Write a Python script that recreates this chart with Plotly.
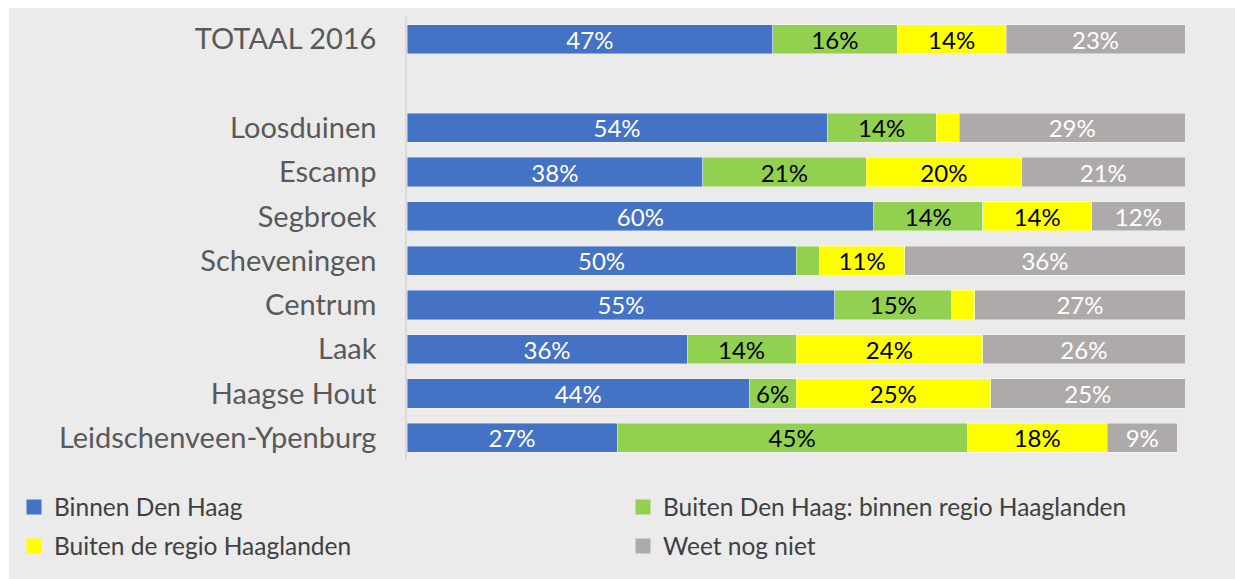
import plotly.graph_objects as go

# Stadsdelen and the share (%) for each destination choice
categories = ["TOTAAL 2016", "Loosduinen", "Escamp", "Segbroek", "Scheveningen",
              "Centrum", "Laak", "Haagse Hout", "Leidschenveen-Ypenburg"]
series_names = ["Binnen Den Haag", "Buiten Den Haag: binnen regio Haaglanden",
                "Buiten de regio Haaglanden", "Weet nog niet"]
binnen_den_haag = [47, 54, 38, 60, 50, 55, 36, 44, 27]
binnen_regio = [16, 14, 21, 14, 3, 15, 14, 6, 45]
buiten_regio = [14, 3, 20, 14, 11, 3, 24, 25, 18]
weet_nog_niet = [23, 29, 21, 12, 36, 27, 26, 25, 9]

colors = ["#4472C4", "#92D050", "#FFFF00", "#AEAAAA"]
label_colors = ["white", "black", "black", "white"]

W, H = 1235, 579
L, R, T, B = 407, 50, 17, 119
pw, ph = W - L - R, H - T - B


def px_x(x):
    return (x - L) / pw


def px_y(y):
    return (H - B - y) / ph


# Row positions: the total on top, one empty row, then the districts
n = len(categories)
ypos = [n] + [n - 2 - i for i in range(n - 1)]

# Legend entries laid out in two rows of two columns (pixel anchors)
legend_spots = [(14, 507), (623, 507), (14, 546), (623, 546)]
legend_ids = ["legend", "legend2", "legend3", "legend4"]

fig = go.Figure()
for name, vals, col, tcol, lid in zip(series_names,
                                      [binnen_den_haag, binnen_regio, buiten_regio, weet_nog_niet],
                                      colors, label_colors, legend_ids):
    fig.add_trace(go.Bar(
        name=name, x=vals, y=ypos, orientation="h", showlegend=False,
        legendgroup=name,
        marker=dict(color=col, line=dict(color="rgba(255,255,255,0.5)", width=0.8)),
        text=[f"{v}%" if v >= 5 else "" for v in vals],
        textposition="inside", insidetextanchor="middle", textangle=0,
        constraintext="none",
        textfont=dict(color=tcol, size=24, family="Lato"),
        width=0.66, hoverinfo="skip",
    ))
    # legend key: a larger square swatch than the default bar symbol
    fig.add_trace(go.Scatter(
        name=name, x=[None], y=[None], mode="markers", legend=lid,
        legendgroup=name,
        marker=dict(symbol="square", size=15, color=col), hoverinfo="skip",
    ))

fig.add_shape(type="rect", xref="paper", yref="paper", layer="below",
              x0=px_x(9), x1=px_x(W), y0=px_y(H), y1=px_y(8),
              fillcolor="#EBEBEB", line=dict(width=0))

legend_layout = {}
for lid, (lx, ly) in zip(legend_ids, legend_spots):
    legend_layout[lid] = dict(
        orientation="h", x=px_x(lx), xanchor="left", y=px_y(ly), yanchor="middle",
        font=dict(size=24.5, color="#404040", family="Lato"),
        bgcolor="rgba(0,0,0,0)", itemclick=False, itemdoubleclick=False,
        itemsizing="trace",
    )

fig.update_layout(
    width=W, height=H, barmode="stack",
    margin=dict(l=L, r=R, t=T, b=B, autoexpand=False),
    paper_bgcolor="white", plot_bgcolor="rgba(0,0,0,0)",
    font=dict(family="Lato", color="#595959"),
    xaxis=dict(range=[0, 100], visible=False, fixedrange=True),
    yaxis=dict(range=[-0.5, n + 0.5], tickvals=ypos, ticktext=categories,
               showgrid=False, zeroline=False, showline=True,
               linecolor="#D9D9D9", linewidth=1.5, ticks="",
               ticklabelstandoff=23, tickfont=dict(size=29, color="#595959")),
    showlegend=True,
    **legend_layout,
)

fig.write_html("out.html")
